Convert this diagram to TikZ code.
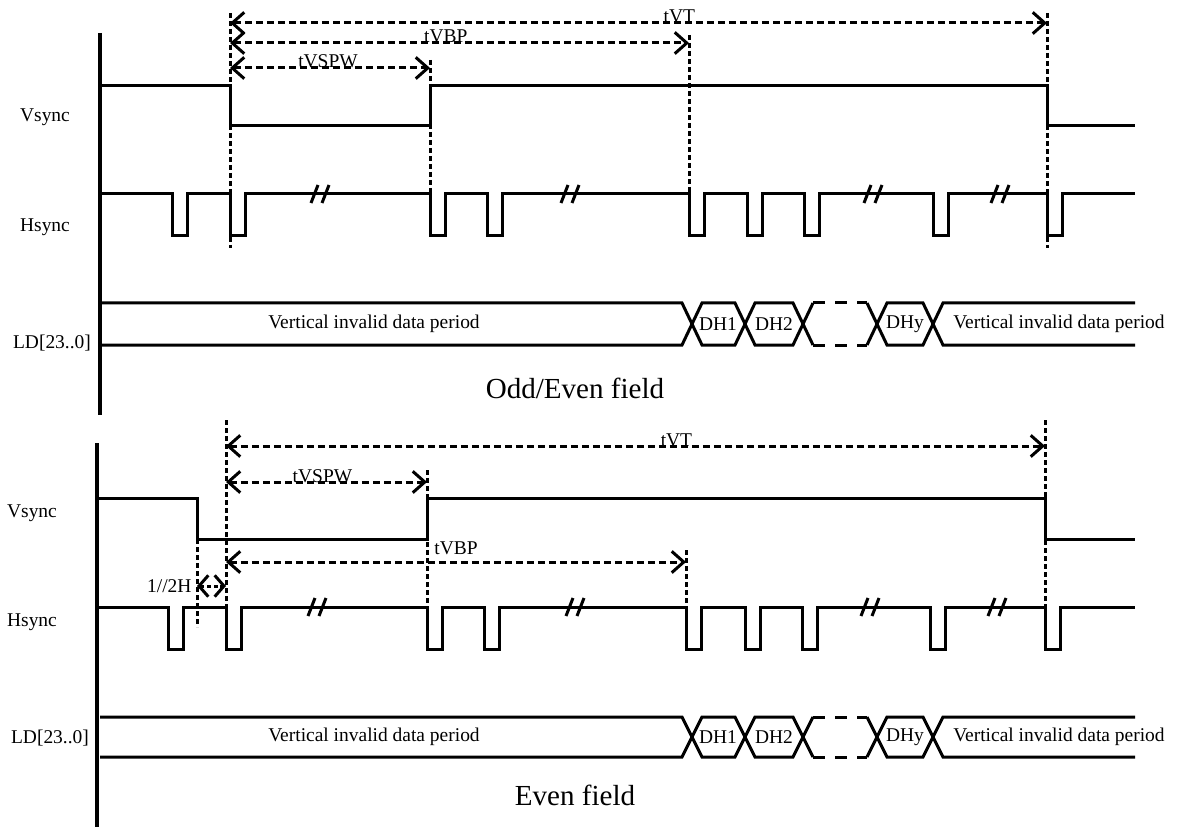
\documentclass[tikz,border=0pt]{standalone}
\usepackage{fontspec}
\setmainfont{Liberation Serif}
\usetikzlibrary{arrows.meta}

\begin{document}
\begin{tikzpicture}[x=0.75pt,y=-0.75pt,>={Straight Barb[length=9pt,width=16pt]},
                    font=\fontsize{14.6}{17}\selectfont,inner sep=0pt]
  \tikzstyle{sig}=[line width=2.25pt]
  \tikzstyle{guide}=[line width=2.25pt,dash pattern=on 3.75pt off 2.25pt]
  \tikzstyle{dimarrow}=[<->,line width=2.25pt,dash pattern=on 5.25pt off 3pt]
  \tikzstyle{fieldtitle}=[font=\fontsize{21.8}{25}\selectfont]
  \tikzstyle{gap}=[line width=2.25pt,dash pattern=on 9pt off 7.5pt]

  \useasboundingbox (0,0) rectangle (1185,827);

  % ---------------- odd/even field ----------------
  \draw[line width=2.5pt] (100,33) -- (100,415);

  \node (oVsync) at (45,117)  {Vsync};
  \node (oHsync) at (45,227)  {Hsync};
  \node (oLD)    at (52,343)  {LD[23..0]};

  \draw[sig] (100,86) -- (230,86) -- (230,126) -- (430,126) -- (430,86)
             -- (1047,86) -- (1047,126) -- (1135,126);
  \draw[sig] (100,194) \foreach \a/\b in {172/187,230/245,430/445,487/502,689/704,
                                         747/762,804/819,933/948,1047/1062}
             { -- (\a,194) -- (\a,236) -- (\b,236) -- (\b,194) } -- (1135,194);
  \foreach \x in {320,570,873,1000}
    \draw[sig] (\x-9,203) -- (\x-2,185) (\x+2,203) -- (\x+9,185);

  \draw[guide] (230,13) -- (230,248);
  \draw[guide] (430,60) -- (430,194);
  \draw[guide] (689,35) -- (689,194);
  \draw[guide] (1047,13) -- (1047,248);

  \coordinate (oVT-l)  at (230,23);
  \coordinate (oVT-r)  at (1047,23);
  \coordinate (oVBP-l) at (230,43);
  \coordinate (oVBP-r) at (689,43);
  \coordinate (oPW-l)  at (230,68);
  \coordinate (oPW-r)  at (430,68);
  \draw[dimarrow] (oVT-l) -- node[pos=0.55,anchor=base] (oVT) {tVT} (oVT-r);
  \draw[dimarrow] (oVBP-l) -- node[pos=0.47,anchor=base] (oVBP) {tVBP} (oVBP-r);
  \draw[dimarrow] (oPW-l) -- node[pos=0.49,anchor=base] (oPW) {tVSPW} (oPW-r);

  \node[fieldtitle] (oTitle) at (575,388) {Odd/Even field};

  % ---------------- even field ----------------
  \draw[line width=2.5pt] (97,443) -- (97,827);

  \node (eVsync) at (32,513)  {Vsync};
  \node (eHsync) at (32,622)  {Hsync};
  \node (eLD)    at (50,738)  {LD[23..0]};

  \draw[sig] (97,498) -- (197,498) -- (197,539) -- (427,539) -- (427,498)
             -- (1045,498) -- (1045,539) -- (1135,539);
  \draw[sig] (97,607) \foreach \a/\b in {168/183,226/241,427/442,484/499,686/701,
                                        745/760,802/817,930/945,1045/1060}
             { -- (\a,607) -- (\a,649) -- (\b,649) -- (\b,607) } -- (1135,607);
  \foreach \x in {317,575,870,997}
    \draw[sig] (\x-9,616) -- (\x-2,598) (\x+2,616) -- (\x+9,598);

  \draw[guide] (226,420) -- (226,607);
  \draw[guide] (427,470) -- (427,607);
  \draw[guide] (686,550) -- (686,607);
  \draw[guide] (1045,420) -- (1045,607);
  \draw[guide] (197,539) -- (197,627);

  \coordinate (eVT-l)  at (226,446);
  \coordinate (eVT-r)  at (1045,446);
  \coordinate (ePW-l)  at (226,482);
  \coordinate (ePW-r)  at (427,482);
  \coordinate (eVBP-l) at (226,562);
  \coordinate (eVBP-r) at (686,562);
  \coordinate (eH-l)   at (197,586);
  \coordinate (eH-r)   at (226,586);
  \draw[dimarrow] (eVT-l) -- node[pos=0.55,anchor=base] (eVT) {tVT} (eVT-r);
  \draw[dimarrow] (ePW-l) -- node[pos=0.48,anchor=base] (ePW) {tVSPW} (ePW-r);
  \draw[dimarrow] (eVBP-l) -- node[pos=0.5,anchor=base,yshift=5.5pt] (eVBP) {tVBP} (eVBP-r);
  \draw[dimarrow,>={Straight Barb[length=7pt,width=16pt]},dash pattern=on 3pt off 2pt]
    (eH-l) node[anchor=east,xshift=-3pt] (eHalf) {1//2H} -- (eH-r);

  \node[fieldtitle] (eTitle) at (575,795) {Even field};

  % ---------------- data bus LD[23..0] ----------------
  \foreach \t/\b/\m in {303/345/324,717/757/737} {
    \draw[sig] (100,\t) -- (682,\t) -- (702,\b) -- (735,\b) -- (755,\t) -- (793,\t) -- (813,\b);
    \draw[sig] (100,\b) -- (682,\b) -- (702,\t) -- (735,\t) -- (755,\b) -- (793,\b) -- (813,\t);
    \draw[gap] (813,\t) -- (867,\t) (813,\b) -- (867,\b);
    \draw[sig] (867,\t) -- (887,\b) -- (923,\b) -- (943,\t) -- (1135,\t);
    \draw[sig] (867,\b) -- (887,\t) -- (923,\t) -- (943,\b) -- (1135,\b);
    \node at (374,\m) {Vertical invalid data period};
    \node at (718,\m) {DH1};
    \node at (774,\m) {DH2};
    \node at (905,\m) {DHy};
    \node[anchor=west] at (953,\m) {Vertical invalid data period};
  }
\end{tikzpicture}
\end{document}
